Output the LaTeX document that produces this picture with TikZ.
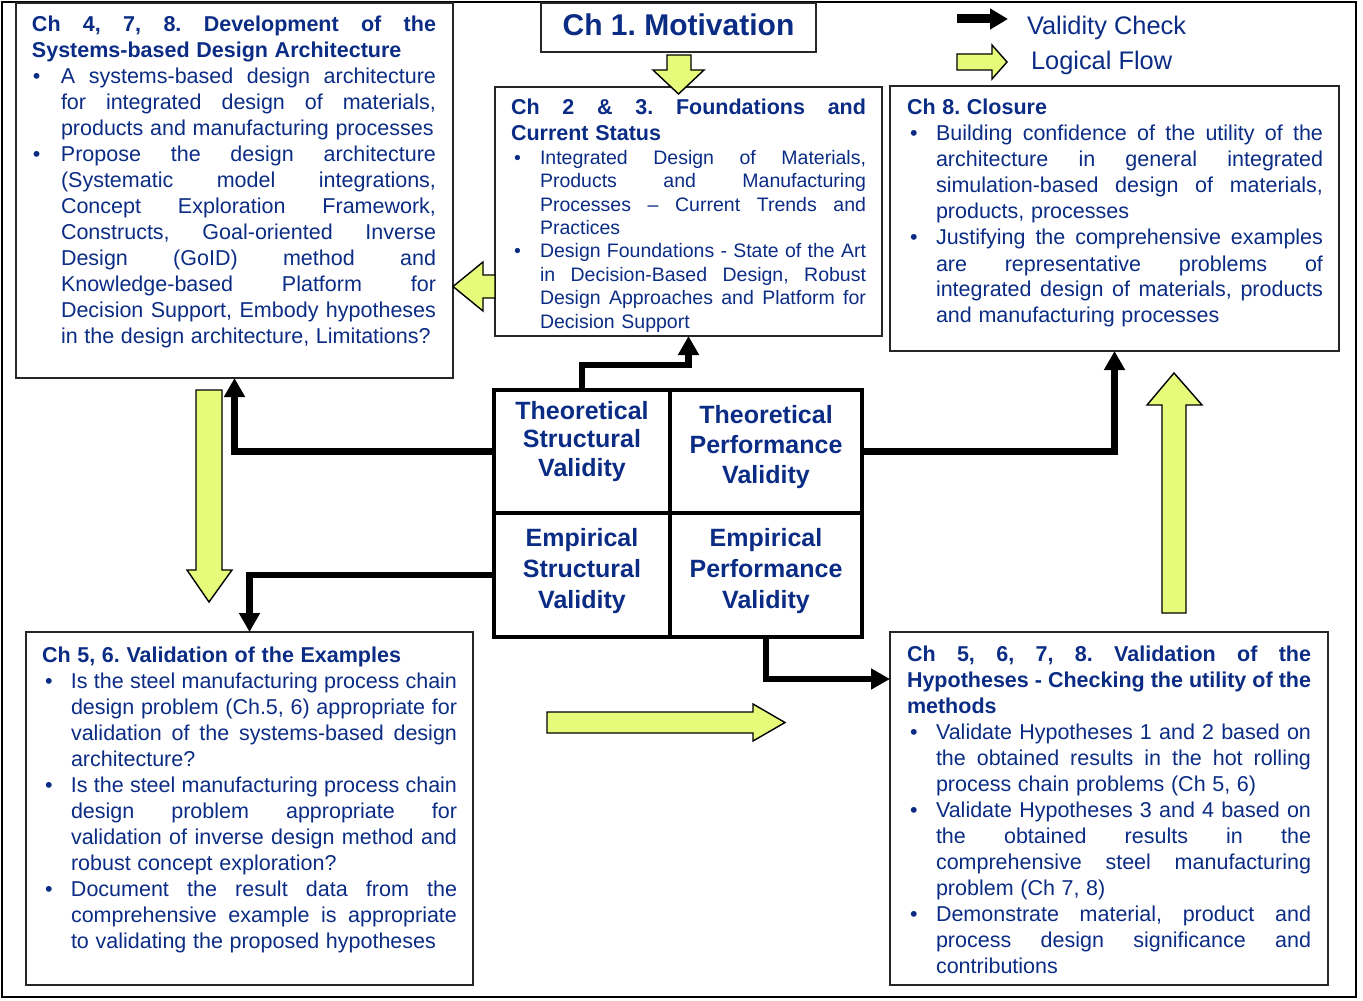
\documentclass[tikz,border=0pt]{standalone}
\usepackage{fontspec}
\setmainfont{Liberation Sans}
\usetikzlibrary{arrows.meta}
\frenchspacing
\definecolor{navy}{HTML}{0B2C84}
\definecolor{flowy}{HTML}{E6FB7A}
\newlength\bwid
\newcommand\sprd[1]{\makebox[\dimexpr\hsize-\leftskip\relax][s]{\spaceskip=\fontdimen2\font plus 1fil\relax#1}}
\newcommand\JL[1]{\noindent\sprd{#1}\par}
\newcommand\LL[1]{\noindent#1\par}
\newcommand\BJ[1]{\noindent\llap{\makebox[\bwid][l]{\textbullet}}\sprd{#1}\par}
\newcommand\BL[1]{\noindent\llap{\makebox[\bwid][l]{\textbullet}}#1\par}
\newcommand\hd{\fontsize{10.75pt}{13pt}\selectfont\bfseries}
\newcommand\bd{\fontsize{10.75pt}{13pt}\selectfont\mdseries\leftskip=14.5pt\bwid=14pt\relax}
\newcommand\sm{\fontsize{9.75pt}{11.7pt}\selectfont\mdseries\leftskip=14.5pt\bwid=13pt\relax}
\newcommand\mkbox[5]{\node[box, minimum width={(#4-#2)*0.5pt}, minimum height={(#5-#3)*0.5pt}] (#1) at ({(#2+#4)/2},{(#3+#5)/2}) {};}
\newcommand\mkcell[5]{\node[cell, minimum width={(#4-#2)*0.5pt}, minimum height={(#5-#3)*0.5pt}] (#1) at ({(#2+#4)/2},{(#3+#5)/2}) {};}
\begin{document}
\begin{tikzpicture}[x=0.5pt,y=-0.5pt,
  box/.style={draw=black!85, line width=1pt, inner sep=0, outer sep=0},
  cell/.style={draw=black, line width=2.2pt, inner sep=0, outer sep=0},
  txt/.style={inner sep=0, outer sep=0, anchor=base west, text=navy},
  celltxt/.style={inner sep=0, outer sep=0, anchor=base, text=navy, text width=88pt, align=center},
  vc/.style={draw=black, line width=3.2pt, -{Triangle[length=9.5pt,width=10pt]}},
  flow/.style={fill=flowy, draw=black, line width=0.7pt, line join=miter}]
\useasboundingbox (0,0) rectangle (1363,1000);
\draw[line width=1.2pt] (2,2) rectangle (1356,997);

% boxes
\mkbox{dev}{16}{3}{453}{378}
\mkbox{mot}{541}{3}{816}{52}
\mkbox{found}{495}{87}{882}{336}
\mkbox{clo}{890}{86}{1339}{351}
\mkbox{ex}{26}{632}{473}{985}
\mkbox{hyp}{890}{632}{1328}{985}

% validity grid
\mkcell{tsv}{494}{390}{670}{513}
\mkcell{tpv}{670}{390}{862}{513}
\mkcell{esv}{494}{513}{670}{637}
\mkcell{epv}{670}{513}{862}{637}

\node[celltxt, font=\fontsize{12.5pt}{14.25pt}\selectfont\bfseries] (tsvt) at (582,419) {Theoretical\\Structural\\Validity};
\node[celltxt, font=\fontsize{12.5pt}{15pt}\selectfont\bfseries] (tpvt) at (766,423) {Theoretical\\Performance\\Validity};
\node[celltxt, font=\fontsize{12.5pt}{15.5pt}\selectfont\bfseries] (esvt) at (582,546) {Empirical\\Structural\\Validity};
\node[celltxt, font=\fontsize{12.5pt}{15.5pt}\selectfont\bfseries] (epvt) at (766,546) {Empirical\\Performance\\Validity};

% motivation
\node[inner sep=0, anchor=base, text=navy, font=\fontsize{15pt}{18pt}\selectfont\bfseries] (mott) at (678.5,36) {Ch 1. Motivation};

% legend
\coordinate (lga) at (957,19);
\coordinate (lgb) at (1008,19);
\draw[line width=4.5pt, -{Triangle[length=9pt,width=10pt]}] (lga) -- (lgb);
\draw[flow] (957,54) -- (992,54) -- (992,45) -- (1007,62) -- (992,79) -- (992,70) -- (957,70) -- cycle;
\node[txt, font=\fontsize{12.7pt}{15pt}\selectfont] (lg1) at (1027,35) {Validity Check};
\node[txt, font=\fontsize{12.7pt}{15pt}\selectfont] (lg2) at (1031,70) {Logical Flow};

% box texts
\node[txt, text width=202pt] (devt) at (32,32) {%
\hd\JL{Ch 4, 7, 8. Development of the}
\LL{Systems-based Design Architecture}
\bd
\BJ{A systems-based design architecture}
\JL{for integrated design of materials,}
\LL{products and manufacturing processes}
\BJ{Propose the design architecture}
\JL{(Systematic model integrations,}
\JL{Concept Exploration Framework,}
\JL{Constructs, Goal-oriented Inverse}
\JL{Design (GoID) method and}
\JL{Knowledge-based Platform for}
\JL{Decision Support, Embody hypotheses}
\LL{in the design architecture, Limitations?}};

\node[txt, text width=177.5pt] (foundt) at (511,115) {%
\hd\JL{Ch 2 \& 3. Foundations and}
\LL{Current Status}
\sm
\BJ{Integrated Design of Materials,}
\JL{Products and Manufacturing}
\JL{Processes – Current Trends and}
\LL{Practices}
\BJ{Design Foundations - State of the Art}
\JL{in Decision-Based Design, Robust}
\JL{Design Approaches and Platform for}
\LL{Decision Support}};

\node[txt, text width=208pt] (clot) at (907,115) {%
\hd\LL{Ch 8. Closure}
\bd\bwid=13pt
\BJ{Building confidence of the utility of the}
\JL{architecture in general integrated}
\JL{simulation-based design of materials,}
\LL{products, processes}
\BJ{Justifying the comprehensive examples}
\JL{are representative problems of}
\JL{integrated design of materials, products}
\LL{and manufacturing processes}};

\node[txt, text width=207.5pt] (ext) at (42,662) {%
\hd\LL{Ch 5, 6. Validation of the Examples}
\bd\bwid=13pt
\BJ{Is the steel manufacturing process chain}
\JL{design problem (Ch.5, 6) appropriate for}
\JL{validation of the systems-based design}
\LL{architecture?}
\BJ{Is the steel manufacturing process chain}
\JL{design problem appropriate for}
\JL{validation of inverse design method and}
\LL{robust concept exploration?}
\BJ{Document the result data from the}
\JL{comprehensive example is appropriate}
\LL{to validating the proposed hypotheses}};

\node[txt, text width=202pt] (hypt) at (907,661) {%
\hd\JL{Ch 5, 6, 7, 8. Validation of the}
\JL{Hypotheses - Checking the utility of the}
\LL{methods}
\bd\bwid=13pt
\BJ{Validate Hypotheses 1 and 2 based on}
\JL{the obtained results in the hot rolling}
\LL{process chain problems (Ch 5, 6)}
\BJ{Validate Hypotheses 3 and 4 based on}
\JL{the obtained results in the}
\JL{comprehensive steel manufacturing}
\LL{problem (Ch 7, 8)}
\BJ{Demonstrate material, product and}
\JL{process design significance and}
\LL{contributions}};

% logical flow arrows
\draw[flow] (667,55) -- (691,55) -- (691,70) -- (704,70) -- (678.5,94) -- (653,70) -- (667,70) -- cycle;
\draw[flow] (495,275) -- (483,275) -- (483,262) -- (453,286.5) -- (483,311) -- (483,298) -- (495,298) -- cycle;
\draw[flow] (196,390) -- (222,390) -- (222,570) -- (232,570) -- (209,602) -- (187,570) -- (196,570) -- cycle;
\draw[flow] (547,712) -- (753,712) -- (753,704) -- (785,722.5) -- (753,741) -- (753,733) -- (547,733) -- cycle;
\draw[flow] (1162,613) -- (1186,613) -- (1186,405) -- (1202,405) -- (1174,373) -- (1147,405) -- (1162,405) -- cycle;

% validity checks
\coordinate (hypin) at (890,679);
\draw[vc] (tsv.north) -- ++(0,-25) -| (found.south);
\draw[vc] (tsv.west) -| (dev.south);
\draw[vc] (esv.west) -| (ex.north);
\draw[vc] (tpv.east) -| (clo.south);
\draw[vc] (epv.south) |- (hypin);
\end{tikzpicture}
\end{document}
